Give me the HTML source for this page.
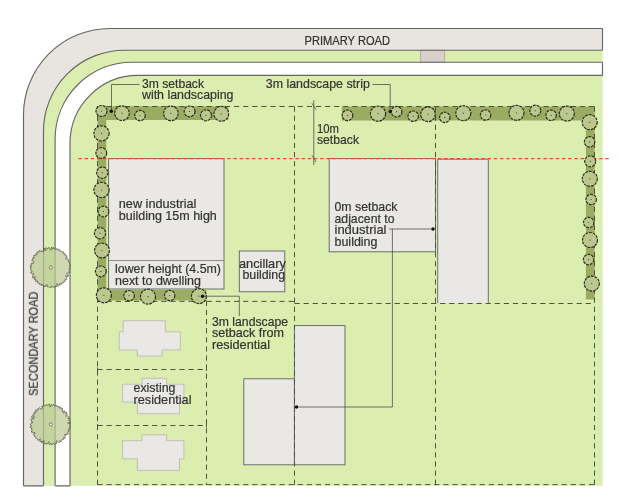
<!DOCTYPE html>
<html lang="en"><head><meta charset="utf-8"><title>Setback diagram</title>
<style>html,body{margin:0;padding:0;background:#fff}body{width:619px;height:504px;overflow:hidden}</style></head>
<body>
<svg width="619" height="504" viewBox="0 0 619 504" style="display:block" font-family="&quot;Liberation Sans&quot;, sans-serif">
<rect width="619" height="504" fill="#ffffff"/>
<path d="M602.5,28.5 L110.0,28.5 A86.5,86.5 0 0 0 23.5,115.0 L23.5,485.8 L602.5,485.8 Z" fill="#e8e4df"/>
<path d="M602.5,50.2 L124.5,50.2 A81,81 0 0 0 43.5,131.2 L43.5,485.8 L602.5,485.8 Z" fill="#dcedb0"/>
<path d="M602.5,62.2 L132.1,62.2 A77,77 0 0 0 55.1,139.2 L55.1,485.8 L602.5,485.8 Z" fill="#ffffff"/>
<path d="M602.5,75.4 L138,75.4 A68,68 0 0 0 70,143.4 L70,485.8 L602.5,485.8 Z" fill="#dcedb0"/>
<rect x="420.4" y="50.2" width="24.3" height="12" fill="#d9d0c9" stroke="#a39d98" stroke-width="0.7"/>
<path d="M602.5,28.5 L110.0,28.5 A86.5,86.5 0 0 0 23.5,115.0 L23.5,485.8" fill="none" stroke="#666664" stroke-width="1.15"/>
<path d="M602.5,50.2 L124.5,50.2 A81,81 0 0 0 43.5,131.2 L43.5,485.8" fill="none" stroke="#666664" stroke-width="1.15"/>
<path d="M602.5,62.2 L132.1,62.2 A77,77 0 0 0 55.1,139.2 L55.1,485.8" fill="none" stroke="#666664" stroke-width="1.15"/>
<path d="M602.5,75.4 L138,75.4 A68,68 0 0 0 70,143.4 L70,485.8" fill="none" stroke="#666664" stroke-width="1.15"/>
<path d="M602.5,28.5 V50.2 M602.5,62.2 V75.4 M23.5,485.8 H43.5 M55.1,485.8 H70" stroke="#666664" stroke-width="1.15" fill="none"/>
<path d="M97.6,106.3 H228.5 V120 H106.3 V290 H206.5 V300.6 H97.6 Z" fill="#9cab62"/>
<path d="M341.8,106.4 H594.6 V299.5 H585.9 V120.4 H341.8 Z" fill="#9cab62"/>
<rect x="108.6" y="158.6" width="115.40" height="130.40" fill="#e9e8e4" stroke="#62625e" stroke-width="0.9"/>
<path d="M108.5,260.5 H224" stroke="#85857f" stroke-width="0.9"/>
<rect x="239.3" y="251" width="45.50" height="40.80" fill="#e9e8e4" stroke="#62625e" stroke-width="0.9"/>
<rect x="329.2" y="158.6" width="106.30" height="93.20" fill="#e9e8e4" stroke="#62625e" stroke-width="0.9"/>
<rect x="437.7" y="159.2" width="50.6" height="143.8" fill="#e9e8e4"/>
<path d="M437.7,303 V159.2 H488.3 V303" fill="none" stroke="#62625e" stroke-width="0.9"/>
<rect x="243.8" y="378.8" width="50.60" height="86.00" fill="#e9e8e4" stroke="#62625e" stroke-width="0.9"/>
<rect x="294.4" y="325.6" width="50.60" height="139.20" fill="#e9e8e4" stroke="#62625e" stroke-width="0.9"/>
<polygon points="123.2,320.7 165.3,320.7 165.3,331.8 180.3,331.8 180.3,349.9 162.2,349.9 162.2,356.1 137.4,356.1 137.4,349.9 119.3,349.9 119.3,331.8 123.2,331.8" fill="#e9e8e4" stroke="#b5b5b0" stroke-width="0.8"/>
<polygon points="142,378.3 166.6,378.3 166.6,384.2 183.9,384.2 183.9,402.1 179.5,402.1 179.5,413.7 137.4,413.7 137.4,402.1 122.6,402.1 122.6,384.2 142,384.2" fill="#e9e8e4" stroke="#b5b5b0" stroke-width="0.8"/>
<polygon points="142,434.8 166.6,434.8 166.6,440.7 183.9,440.7 183.9,458.8 179.5,458.8 179.5,470.4 137.4,470.4 137.4,458.8 122.6,458.8 122.6,440.7 142,440.7" fill="#e9e8e4" stroke="#b5b5b0" stroke-width="0.8"/>
<path d="M97.5,106.5 H594.5" stroke="#474b38" stroke-width="0.95" fill="none" stroke-dasharray="5.2 3.9" />
<path d="M594.5,106.5 V485.5" stroke="#474b38" stroke-width="0.95" fill="none" stroke-dasharray="5.2 3.9" />
<path d="M97.5,106.5 V485.5" stroke="#474b38" stroke-width="0.95" fill="none" stroke-dasharray="5.2 3.9" />
<path d="M294.5,106.5 V487" stroke="#474b38" stroke-width="0.95" fill="none" stroke-dasharray="5.2 3.9" />
<path d="M435.5,106.5 V487" stroke="#474b38" stroke-width="0.95" fill="none" stroke-dasharray="5.2 3.9" />
<path d="M97.5,301.4 H294.5" stroke="#474b38" stroke-width="0.95" fill="none" stroke-dasharray="5.2 3.9" />
<path d="M294.5,303.5 H594.5" stroke="#474b38" stroke-width="0.95" fill="none" stroke-dasharray="5.2 3.9" />
<path d="M97.5,484.6 H594.5" stroke="#474b38" stroke-width="0.95" fill="none" stroke-dasharray="5.2 3.9" />
<path d="M206.5,300.8 V485" stroke="#474b38" stroke-width="0.95" fill="none" stroke-dasharray="5.2 3.9" />
<path d="M97.5,369.5 H206.5" stroke="#474b38" stroke-width="0.95" fill="none" stroke-dasharray="5.2 3.9" />
<path d="M97.5,425.5 H206.5" stroke="#474b38" stroke-width="0.95" fill="none" stroke-dasharray="5.2 3.9" />
<path d="M97.5,367.5 v3.6 M206.5,367.5 v3.6 M97.5,423.9 v3.6 M206.5,423.9 v3.6" stroke="#4f4f4a" stroke-width="0.9"/>
<path d="M78.4,158.5 H609" stroke="#f04a2a" stroke-width="1.25" stroke-dasharray="3.4 2.8" fill="none"/>
<circle cx="101.5" cy="111" r="5.5" fill="#bcc78e" stroke="#2b2f1c" stroke-width="1.2" stroke-dasharray="2.8 1"/>
<circle cx="101.5" cy="111" r="0.6" fill="#3f432f"/>
<circle cx="122" cy="113.2" r="7.3" fill="#bcc78e" stroke="#2b2f1c" stroke-width="1.2" stroke-dasharray="2.8 1"/>
<circle cx="122" cy="113.2" r="0.6" fill="#3f432f"/>
<circle cx="140" cy="115.5" r="5.2" fill="#bcc78e" stroke="#2b2f1c" stroke-width="1.2" stroke-dasharray="2.8 1"/>
<circle cx="140" cy="115.5" r="0.6" fill="#3f432f"/>
<circle cx="170.9" cy="113.4" r="7.3" fill="#bcc78e" stroke="#2b2f1c" stroke-width="1.2" stroke-dasharray="2.8 1"/>
<circle cx="170.9" cy="113.4" r="0.6" fill="#3f432f"/>
<circle cx="189.6" cy="111.4" r="5.4" fill="#bcc78e" stroke="#2b2f1c" stroke-width="1.2" stroke-dasharray="2.8 1"/>
<circle cx="189.6" cy="111.4" r="0.6" fill="#3f432f"/>
<circle cx="206" cy="115.3" r="5.5" fill="#bcc78e" stroke="#2b2f1c" stroke-width="1.2" stroke-dasharray="2.8 1"/>
<circle cx="206" cy="115.3" r="0.6" fill="#3f432f"/>
<circle cx="221.3" cy="113.8" r="7.4" fill="#bcc78e" stroke="#2b2f1c" stroke-width="1.2" stroke-dasharray="2.8 1"/>
<circle cx="221.3" cy="113.8" r="0.6" fill="#3f432f"/>
<circle cx="101.5" cy="133.4" r="7.6" fill="#bcc78e" stroke="#2b2f1c" stroke-width="1.2" stroke-dasharray="2.8 1"/>
<circle cx="101.5" cy="133.4" r="0.6" fill="#3f432f"/>
<circle cx="101.3" cy="153" r="5.4" fill="#bcc78e" stroke="#2b2f1c" stroke-width="1.2" stroke-dasharray="2.8 1"/>
<circle cx="101.3" cy="153" r="0.6" fill="#3f432f"/>
<circle cx="102.3" cy="172.7" r="5.6" fill="#bcc78e" stroke="#2b2f1c" stroke-width="1.2" stroke-dasharray="2.8 1"/>
<circle cx="102.3" cy="172.7" r="0.6" fill="#3f432f"/>
<circle cx="101.5" cy="190" r="7.6" fill="#bcc78e" stroke="#2b2f1c" stroke-width="1.2" stroke-dasharray="2.8 1"/>
<circle cx="101.5" cy="190" r="0.6" fill="#3f432f"/>
<circle cx="103.4" cy="211.5" r="5.4" fill="#bcc78e" stroke="#2b2f1c" stroke-width="1.2" stroke-dasharray="2.8 1"/>
<circle cx="103.4" cy="211.5" r="0.6" fill="#3f432f"/>
<circle cx="100" cy="233.2" r="5.6" fill="#bcc78e" stroke="#2b2f1c" stroke-width="1.2" stroke-dasharray="2.8 1"/>
<circle cx="100" cy="233.2" r="0.6" fill="#3f432f"/>
<circle cx="102" cy="250.5" r="7.4" fill="#bcc78e" stroke="#2b2f1c" stroke-width="1.2" stroke-dasharray="2.8 1"/>
<circle cx="102" cy="250.5" r="0.6" fill="#3f432f"/>
<circle cx="100.8" cy="271.4" r="5.4" fill="#bcc78e" stroke="#2b2f1c" stroke-width="1.2" stroke-dasharray="2.8 1"/>
<circle cx="100.8" cy="271.4" r="0.6" fill="#3f432f"/>
<circle cx="103.9" cy="295.3" r="7.5" fill="#bcc78e" stroke="#2b2f1c" stroke-width="1.2" stroke-dasharray="2.8 1"/>
<circle cx="103.9" cy="295.3" r="0.6" fill="#3f432f"/>
<circle cx="129.1" cy="295.7" r="5.2" fill="#bcc78e" stroke="#2b2f1c" stroke-width="1.2" stroke-dasharray="2.8 1"/>
<circle cx="129.1" cy="295.7" r="0.6" fill="#3f432f"/>
<circle cx="148" cy="296.7" r="7.5" fill="#bcc78e" stroke="#2b2f1c" stroke-width="1.2" stroke-dasharray="2.8 1"/>
<circle cx="148" cy="296.7" r="0.6" fill="#3f432f"/>
<circle cx="169.7" cy="295.5" r="5.2" fill="#bcc78e" stroke="#2b2f1c" stroke-width="1.2" stroke-dasharray="2.8 1"/>
<circle cx="169.7" cy="295.5" r="0.6" fill="#3f432f"/>
<circle cx="198.9" cy="296.2" r="7.5" fill="#bcc78e" stroke="#2b2f1c" stroke-width="1.2" stroke-dasharray="2.8 1"/>
<circle cx="198.9" cy="296.2" r="0.6" fill="#3f432f"/>
<circle cx="347.5" cy="115.3" r="5.3" fill="#bcc78e" stroke="#2b2f1c" stroke-width="1.2" stroke-dasharray="2.8 1"/>
<circle cx="347.5" cy="115.3" r="0.6" fill="#3f432f"/>
<circle cx="378" cy="113.7" r="7.6" fill="#bcc78e" stroke="#2b2f1c" stroke-width="1.2" stroke-dasharray="2.8 1"/>
<circle cx="378" cy="113.7" r="0.6" fill="#3f432f"/>
<circle cx="396.6" cy="111.7" r="5.3" fill="#bcc78e" stroke="#2b2f1c" stroke-width="1.2" stroke-dasharray="2.8 1"/>
<circle cx="396.6" cy="111.7" r="0.6" fill="#3f432f"/>
<circle cx="413.2" cy="116.2" r="5.2" fill="#bcc78e" stroke="#2b2f1c" stroke-width="1.2" stroke-dasharray="2.8 1"/>
<circle cx="413.2" cy="116.2" r="0.6" fill="#3f432f"/>
<circle cx="428" cy="114.3" r="7.3" fill="#bcc78e" stroke="#2b2f1c" stroke-width="1.2" stroke-dasharray="2.8 1"/>
<circle cx="428" cy="114.3" r="0.6" fill="#3f432f"/>
<circle cx="444.8" cy="117.4" r="5.2" fill="#bcc78e" stroke="#2b2f1c" stroke-width="1.2" stroke-dasharray="2.8 1"/>
<circle cx="444.8" cy="117.4" r="0.6" fill="#3f432f"/>
<circle cx="463.3" cy="113.2" r="7.5" fill="#bcc78e" stroke="#2b2f1c" stroke-width="1.2" stroke-dasharray="2.8 1"/>
<circle cx="463.3" cy="113.2" r="0.6" fill="#3f432f"/>
<circle cx="485.6" cy="115" r="5.2" fill="#bcc78e" stroke="#2b2f1c" stroke-width="1.2" stroke-dasharray="2.8 1"/>
<circle cx="485.6" cy="115" r="0.6" fill="#3f432f"/>
<circle cx="516.5" cy="112.8" r="7.5" fill="#bcc78e" stroke="#2b2f1c" stroke-width="1.2" stroke-dasharray="2.8 1"/>
<circle cx="516.5" cy="112.8" r="0.6" fill="#3f432f"/>
<circle cx="535.3" cy="110.6" r="5.5" fill="#bcc78e" stroke="#2b2f1c" stroke-width="1.2" stroke-dasharray="2.8 1"/>
<circle cx="535.3" cy="110.6" r="0.6" fill="#3f432f"/>
<circle cx="551.1" cy="115.3" r="5.2" fill="#bcc78e" stroke="#2b2f1c" stroke-width="1.2" stroke-dasharray="2.8 1"/>
<circle cx="551.1" cy="115.3" r="0.6" fill="#3f432f"/>
<circle cx="566.8" cy="113.6" r="7.5" fill="#bcc78e" stroke="#2b2f1c" stroke-width="1.2" stroke-dasharray="2.8 1"/>
<circle cx="566.8" cy="113.6" r="0.6" fill="#3f432f"/>
<circle cx="589.7" cy="122.2" r="7.5" fill="#bcc78e" stroke="#2b2f1c" stroke-width="1.2" stroke-dasharray="2.8 1"/>
<circle cx="589.7" cy="122.2" r="0.6" fill="#3f432f"/>
<circle cx="589.6" cy="141.8" r="5.2" fill="#bcc78e" stroke="#2b2f1c" stroke-width="1.2" stroke-dasharray="2.8 1"/>
<circle cx="589.6" cy="141.8" r="0.6" fill="#3f432f"/>
<circle cx="590.2" cy="161.3" r="5.5" fill="#bcc78e" stroke="#2b2f1c" stroke-width="1.2" stroke-dasharray="2.8 1"/>
<circle cx="590.2" cy="161.3" r="0.6" fill="#3f432f"/>
<circle cx="589.8" cy="178.8" r="7.5" fill="#bcc78e" stroke="#2b2f1c" stroke-width="1.2" stroke-dasharray="2.8 1"/>
<circle cx="589.8" cy="178.8" r="0.6" fill="#3f432f"/>
<circle cx="591.2" cy="199.5" r="5.2" fill="#bcc78e" stroke="#2b2f1c" stroke-width="1.2" stroke-dasharray="2.8 1"/>
<circle cx="591.2" cy="199.5" r="0.6" fill="#3f432f"/>
<circle cx="588.7" cy="222.5" r="5.2" fill="#bcc78e" stroke="#2b2f1c" stroke-width="1.2" stroke-dasharray="2.8 1"/>
<circle cx="588.7" cy="222.5" r="0.6" fill="#3f432f"/>
<circle cx="590" cy="240" r="7.5" fill="#bcc78e" stroke="#2b2f1c" stroke-width="1.2" stroke-dasharray="2.8 1"/>
<circle cx="590" cy="240" r="0.6" fill="#3f432f"/>
<circle cx="588.6" cy="259.6" r="5.2" fill="#bcc78e" stroke="#2b2f1c" stroke-width="1.2" stroke-dasharray="2.8 1"/>
<circle cx="588.6" cy="259.6" r="0.6" fill="#3f432f"/>
<circle cx="591.8" cy="283.6" r="7.5" fill="#bcc78e" stroke="#2b2f1c" stroke-width="1.2" stroke-dasharray="2.8 1"/>
<circle cx="591.8" cy="283.6" r="0.6" fill="#3f432f"/>
<path d="M70.3,267.4 L69.3,267.9 L69.2,268.9 L70.1,270.0 L69.2,270.8 L69.0,271.8 L69.8,272.7 L67.9,272.9 L66.6,273.5 L68.9,275.3 L67.8,275.2 L68.0,276.8 L65.6,275.6 L66.2,277.1 L66.7,278.4 L66.5,279.4 L65.0,279.4 L65.2,281.0 L64.9,281.7 L63.8,281.4 L63.3,282.5 L63.5,282.8 L62.2,282.6 L62.0,283.7 L60.7,284.6 L59.9,283.2 L59.2,285.3 L58.6,286.3 L56.9,283.5 L57.0,285.3 L57.0,286.6 L55.0,286.1 L54.9,287.0 L54.0,287.4 L52.7,286.3 L52.1,287.0 L51.1,287.5 L51.2,286.4 L50.4,287.0 L49.5,287.8 L48.1,286.4 L47.2,286.7 L46.9,284.5 L45.9,286.3 L45.1,286.5 L44.0,286.5 L43.6,284.9 L42.7,284.9 L41.5,285.5 L41.7,284.0 L40.5,284.8 L39.6,284.5 L39.5,283.4 L38.4,283.3 L37.5,282.9 L37.7,281.1 L36.7,281.0 L35.6,281.5 L36.1,279.4 L35.2,279.6 L33.8,279.0 L35.6,276.8 L33.2,277.9 L32.4,277.7 L33.1,275.9 L32.5,275.6 L34.1,273.8 L32.8,274.0 L31.0,272.9 L30.4,272.5 L32.4,271.6 L31.2,270.7 L30.3,269.9 L31.6,268.7 L30.8,268.5 L30.4,267.2 L31.8,266.3 L30.4,266.3 L30.1,265.4 L31.9,264.4 L31.3,263.2 L33.4,263.5 L33.8,262.1 L33.9,261.8 L31.6,260.3 L32.9,259.9 L32.9,259.3 L32.5,257.9 L34.5,258.0 L33.8,256.7 L33.7,255.5 L35.7,255.7 L35.5,254.8 L35.9,253.7 L37.4,254.4 L36.8,252.7 L37.0,251.8 L39.1,252.3 L39.2,251.1 L39.5,250.3 L40.7,251.7 L41.0,250.7 L43.2,251.7 L43.9,251.4 L43.8,249.5 L44.1,248.0 L45.9,250.7 L45.5,248.5 L46.0,247.6 L47.9,249.0 L48.0,248.4 L48.9,247.3 L49.8,248.8 L50.7,250.2 L51.8,247.0 L52.5,249.1 L53.2,247.9 L53.8,247.5 L54.9,249.6 L55.8,248.7 L56.2,248.4 L56.7,249.6 L57.8,249.2 L59.3,249.2 L58.8,250.6 L59.7,251.0 L60.8,250.6 L61.6,252.0 L62.1,251.9 L63.4,251.8 L63.2,253.7 L64.2,253.9 L64.8,253.5 L65.0,255.4 L65.8,254.8 L66.6,255.9 L66.2,256.7 L67.4,257.1 L65.3,258.8 L67.4,258.8 L68.1,259.1 L68.9,260.1 L68.0,261.8 L68.8,261.5 L69.6,262.1 L69.1,263.1 L70.2,264.4 L70.6,265.1 L69.2,265.7 L70.2,266.8Z" fill="rgb(189,201,148)" fill-opacity="0.72" stroke="#4d533c" stroke-width="0.7" stroke-linejoin="round"/>
<circle cx="50.8" cy="267.5" r="1.6" fill="#eef2dc" stroke="#555b42" stroke-width="0.7"/>
<path d="M70.5,424.4 L69.0,425.4 L69.9,426.2 L70.4,427.3 L69.0,428.0 L69.0,428.6 L69.9,429.6 L68.4,429.5 L68.2,430.9 L69.2,431.7 L67.2,432.3 L67.4,432.6 L68.3,434.1 L66.2,434.3 L66.7,434.8 L64.5,434.3 L65.5,436.1 L64.7,437.1 L65.1,438.5 L63.5,437.4 L63.6,438.8 L63.4,439.5 L61.5,439.9 L61.3,440.4 L61.0,441.6 L59.6,440.6 L59.9,441.6 L59.0,442.9 L57.9,441.7 L56.3,440.7 L56.5,443.7 L55.8,442.9 L55.3,443.7 L54.5,444.0 L53.2,443.1 L52.8,444.3 L51.1,444.9 L50.8,443.5 L49.5,444.3 L49.1,444.5 L48.9,441.7 L47.5,443.4 L46.6,444.4 L46.0,442.9 L45.3,443.6 L44.1,444.0 L43.7,441.9 L43.8,440.5 L41.6,442.9 L42.0,441.0 L41.0,441.5 L39.7,441.2 L40.4,438.7 L38.9,440.2 L37.8,440.2 L37.7,439.0 L36.5,438.3 L36.0,438.5 L35.7,436.7 L35.1,436.7 L33.9,435.9 L34.7,435.2 L33.3,434.6 L35.3,433.1 L34.9,432.5 L32.4,432.7 L31.0,431.7 L32.2,431.2 L31.7,429.6 L31.0,429.0 L32.3,428.4 L30.8,428.0 L30.0,426.6 L31.5,426.1 L30.8,424.9 L30.1,424.7 L31.2,423.4 L30.9,423.1 L33.1,422.3 L31.4,421.6 L31.5,420.3 L30.4,419.4 L31.8,419.0 L33.9,418.8 L31.2,416.8 L34.5,417.2 L34.6,417.0 L32.3,415.1 L34.3,415.0 L34.1,413.3 L33.9,412.5 L35.5,413.2 L34.9,411.7 L35.6,410.0 L37.2,411.4 L37.0,409.5 L37.2,408.8 L38.5,409.5 L39.1,407.8 L39.6,407.6 L41.5,409.5 L42.3,409.0 L41.8,405.9 L42.8,407.0 L43.2,405.5 L43.8,405.6 L45.5,405.7 L46.1,404.7 L47.0,404.5 L47.5,405.3 L48.7,404.5 L49.5,403.9 L50.1,407.1 L50.8,405.1 L51.3,404.6 L52.5,405.7 L52.8,404.7 L53.6,404.6 L54.7,406.4 L56.1,405.1 L56.3,405.2 L56.9,406.8 L57.6,406.4 L59.2,406.3 L59.2,408.0 L59.8,408.0 L60.8,407.1 L60.9,409.1 L62.9,408.6 L62.6,408.8 L62.6,410.1 L62.3,411.9 L64.8,410.7 L63.4,413.0 L66.0,412.5 L66.6,412.1 L66.2,413.8 L67.3,413.9 L65.6,416.2 L67.6,415.8 L68.5,416.6 L69.2,417.0 L67.9,418.5 L69.6,418.5 L69.8,419.7 L68.6,420.2 L69.4,421.1 L70.7,422.3 L67.6,423.0 L69.9,423.4Z" fill="rgb(189,201,148)" fill-opacity="0.72" stroke="#4d533c" stroke-width="0.7" stroke-linejoin="round"/>
<circle cx="50.8" cy="424.4" r="1.6" fill="#eef2dc" stroke="#555b42" stroke-width="0.7"/>
<path d="M111.5,111 V84.5 H139.5" stroke="#454543" stroke-width="0.75" fill="none"/>
<circle cx="111.3" cy="111.3" r="1.7" fill="#111"/>
<path d="M372.4,84.5 H390.2 V111.6" stroke="#454543" stroke-width="0.75" fill="none"/>
<circle cx="390.2" cy="111.6" r="1.7" fill="#111"/>
<path d="M313.8,100.2 V165 M311.9,103.2 L316.1,109.9 M311.9,155.3 L316.1,162" stroke="#454543" stroke-width="0.75" fill="none"/>
<path d="M389,229 H433 M392.4,229 V407 H296.5" stroke="#454543" stroke-width="0.75" fill="none"/>
<circle cx="433" cy="229" r="1.7" fill="#111"/>
<circle cx="296.5" cy="407" r="1.7" fill="#111"/>
<path d="M202.5,296.2 H239.3 V316" stroke="#454543" stroke-width="0.75" fill="none"/>
<circle cx="202.5" cy="296.2" r="1.7" fill="#111"/>
<g opacity="0.999">
<text x="304.6" y="45.2" font-size="12.4" fill="#333333" stroke="#333333" stroke-width="0.2" textLength="85.4" lengthAdjust="spacingAndGlyphs" >PRIMARY ROAD</text>
<text transform="translate(37.8,395.8) rotate(-90)" font-size="12.4" fill="#333333" stroke="#333333" stroke-width="0.2" textLength="104.2" lengthAdjust="spacingAndGlyphs">SECONDARY ROAD</text>
<text x="142" y="87.6" font-size="12.4" fill="#333333" stroke="#333333" stroke-width="0.2" textLength="62" lengthAdjust="spacingAndGlyphs" >3m setback</text>
<text x="142" y="99.3" font-size="12.4" fill="#333333" stroke="#333333" stroke-width="0.2" textLength="91.5" lengthAdjust="spacingAndGlyphs" >with landscaping</text>
<text x="265.8" y="87.6" font-size="12.4" fill="#333333" stroke="#333333" stroke-width="0.2" textLength="104" lengthAdjust="spacingAndGlyphs" >3m landscape strip</text>
<text x="317" y="132.8" font-size="12.4" fill="#333333" stroke="#333333" stroke-width="0.2" textLength="22" lengthAdjust="spacingAndGlyphs" >10m</text>
<text x="317" y="144.2" font-size="12.4" fill="#333333" stroke="#333333" stroke-width="0.2" textLength="42" lengthAdjust="spacingAndGlyphs" >setback</text>
<text x="118.8" y="208" font-size="12.4" fill="#333333" stroke="#333333" stroke-width="0.2" textLength="77.6" lengthAdjust="spacingAndGlyphs" >new industrial</text>
<text x="118.8" y="220" font-size="12.4" fill="#333333" stroke="#333333" stroke-width="0.2" textLength="98" lengthAdjust="spacingAndGlyphs" >building 15m high</text>
<text x="115" y="273" font-size="12.4" fill="#333333" stroke="#333333" stroke-width="0.2" textLength="106" lengthAdjust="spacingAndGlyphs" >lower height (4.5m)</text>
<text x="115" y="284.7" font-size="12.4" fill="#333333" stroke="#333333" stroke-width="0.2" textLength="86" lengthAdjust="spacingAndGlyphs" >next to dwelling</text>
<text x="239" y="267.5" font-size="12.4" fill="#333333" stroke="#333333" stroke-width="0.2" textLength="46.8" lengthAdjust="spacingAndGlyphs" >ancillary</text>
<text x="242.5" y="279.3" font-size="12.4" fill="#333333" stroke="#333333" stroke-width="0.2" textLength="42.6" lengthAdjust="spacingAndGlyphs" >building</text>
<text x="334.5" y="211" font-size="12.4" fill="#333333" stroke="#333333" stroke-width="0.2" textLength="63" lengthAdjust="spacingAndGlyphs" >0m setback</text>
<text x="334.5" y="222.5" font-size="12.4" fill="#333333" stroke="#333333" stroke-width="0.2" textLength="60" lengthAdjust="spacingAndGlyphs" >adjacent to</text>
<text x="334.5" y="234" font-size="12.4" fill="#333333" stroke="#333333" stroke-width="0.2" textLength="52" lengthAdjust="spacingAndGlyphs" >industrial</text>
<text x="334.5" y="245.5" font-size="12.4" fill="#333333" stroke="#333333" stroke-width="0.2" textLength="43" lengthAdjust="spacingAndGlyphs" >building</text>
<text x="212" y="325.5" font-size="12.4" fill="#333333" stroke="#333333" stroke-width="0.2" textLength="76" lengthAdjust="spacingAndGlyphs" >3m landscape</text>
<text x="212" y="337" font-size="12.4" fill="#333333" stroke="#333333" stroke-width="0.2" textLength="72" lengthAdjust="spacingAndGlyphs" >setback from</text>
<text x="212" y="348.5" font-size="12.4" fill="#333333" stroke="#333333" stroke-width="0.2" textLength="58" lengthAdjust="spacingAndGlyphs" >residential</text>
<text x="133.5" y="392" font-size="12.4" fill="#333333" stroke="#333333" stroke-width="0.2" textLength="42" lengthAdjust="spacingAndGlyphs" >existing</text>
<text x="133.5" y="403.5" font-size="12.4" fill="#333333" stroke="#333333" stroke-width="0.2" textLength="58" lengthAdjust="spacingAndGlyphs" >residential</text>
</g>
</svg>
</body></html>
